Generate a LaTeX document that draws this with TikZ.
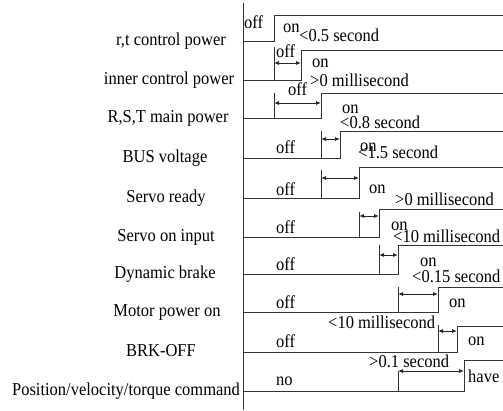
\documentclass[tikz,border=0pt]{standalone}
\usepackage{fontspec}
\setmainfont{Liberation Serif}
\usepackage{graphicx}
\usetikzlibrary{arrows.meta}
\newcommand{\stx}[1]{\scalebox{1}[1.1]{#1}}
\begin{document}
\begin{tikzpicture}[x=1pt,y=-1pt,
  sig/.style={line width=0.8pt, draw=black!80},
  dur/.style={line width=0.8pt, draw=black!85, {Latex[length=5pt,width=4pt]}-{Latex[length=5pt,width=4pt]}},
  lbl/.style={anchor=base, inner sep=0pt, font=\fontsize{16.5}{18}\selectfont},
  txt/.style={anchor=base west, inner sep=0pt, font=\fontsize{16.5}{18}\selectfont}]
\useasboundingbox (0,0) rectangle (503,410);
% axis
\coordinate (axT) at (243,3);
\coordinate (axB) at (243,410);
\draw[sig] (axT) -- (axB);
% signals: low / high / step
\foreach \lo/\hi/\st in {41/15/274, 80/50/301, 118/93/321, 158/131/340, 198/167/359,
  237/209/379, 274/245/398, 312/287/438, 352/326/457, 391/360/464}
  \draw[sig] (243,\lo) -- (\st,\lo) -- (\st,\hi) -- (503,\hi);
% ticks
\foreach \x/\lo/\tp in {274/80/47, 274/118/93, 321/158/131, 321/198/170, 359/237/212,
  379/274/245, 398/312/287, 438/352/325, 398/391/371}
  \draw[sig] (\x,\lo) -- (\x,\tp);
% duration arrows
\foreach \a/\b/\y in {274/301/63, 274/321/103, 321/340/139, 321/359/178, 359/379/216,
  379/398/255, 398/438/294, 438/457/331, 398/464/371}
  \draw[dur] (\a,\y) -- (\b,\y);
% signal names
\node[lbl] (n1) at (171,45) {\stx{r,t control power}};
\node[lbl] (n2) at (169,84) {\stx{inner control power}};
\node[lbl] (n3) at (168,122) {\stx{R,S,T main power}};
\node[lbl] (n4) at (165,162) {\stx{BUS voltage}};
\node[lbl] (n5) at (166,202) {\stx{Servo ready}};
\node[lbl] (n6) at (166,241) {\stx{Servo on input}};
\node[lbl] (n7) at (165,278) {\stx{Dynamic brake}};
\node[lbl] (n8) at (167,316) {\stx{Motor power on}};
\node[lbl] (n9) at (161,356) {\stx{BRK-OFF}};
\node[lbl] (n10) at (126,395) {\stx{Position/velocity/torque command}};
% state texts
\node[txt] (o1) at (244,28) {\stx{off}};
\node[txt] (h1) at (283,32) {\stx{on}};
\node[txt] (d1) at (299,41) {\stx{<0.5 second}};
\node[txt] (o2) at (276,57) {\stx{off}};
\node[txt] (h2) at (312,67) {\stx{on}};
\node[txt] (d2) at (310,86) {\stx{>0 millisecond}};
\node[txt] (o3) at (288,95) {\stx{off}};
\node[txt] (h3) at (342,113) {\stx{on}};
\node[txt] (d3) at (340,128) {\stx{<0.8 second}};
\node[txt] (o4) at (276,153) {\stx{off}};
\node[txt] (h4) at (360,151) {\stx{on}};
\node[txt] (d4) at (358,158) {\stx{<1.5 second}};
\node[txt] (o5) at (276,195) {\stx{off}};
\node[txt] (h5) at (369,193) {\stx{on}};
\node[txt] (d5) at (395,205) {\stx{>0 millisecond}};
\node[txt] (o6) at (276,233) {\stx{off}};
\node[txt] (h6) at (391,230) {\stx{on}};
\node[txt] (d6) at (393,242) {\stx{<10 millisecond}};
\node[txt] (o7) at (276,270) {\stx{off}};
\node[txt] (h7) at (420,266) {\stx{on}};
\node[txt] (d7) at (412,282) {\stx{<0.15 second}};
\node[txt] (o8) at (276,308) {\stx{off}};
\node[txt] (h8) at (449,307) {\stx{on}};
\node[txt] (d8) at (328,328) {\stx{<10 millisecond}};
\node[txt] (o9) at (276,347) {\stx{off}};
\node[txt] (h9) at (468,345) {\stx{on}};
\node[txt] (d9) at (369,367) {\stx{>0.1 second}};
\node[txt] (o10) at (276,385) {\stx{no}};
\node[txt] (h10) at (468,382) {\stx{have}};
\end{tikzpicture}
\end{document}
